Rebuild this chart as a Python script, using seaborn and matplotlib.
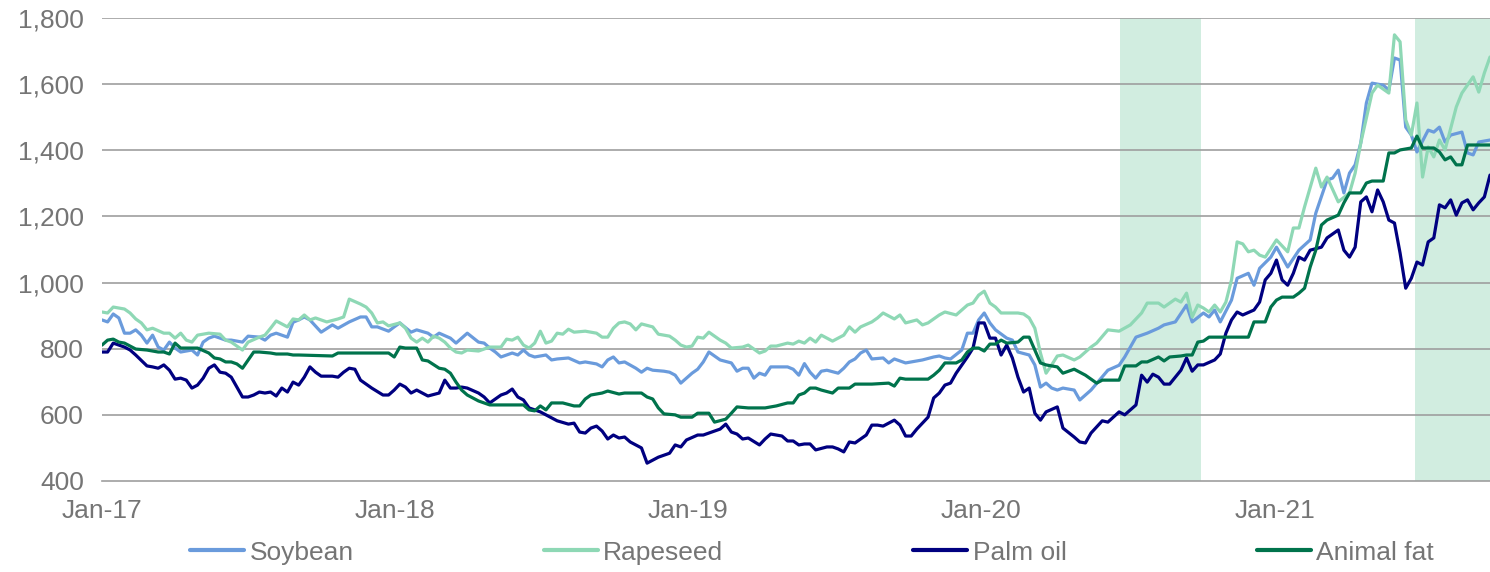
import numpy as np
import pandas as pd
import matplotlib
matplotlib.use("Agg")
import matplotlib.pyplot as plt
import matplotlib.dates as mdates
from matplotlib.ticker import FuncFormatter
import seaborn as sns

# ---------------- data (weekly index since 2017-01-01, USD/t) ----------------
START = "2017-01-01"

soy_week = [0,1,2,3,4,5,6,7,8,9,10,11,12,13,14,16,17,18,19,20,22,23,25,26,28,29,30,31,33,34,35,36,37,39,41,42,44,46,47,48,49,51,52,53,55,56,58,59,60,62,63,64,65,67,68,69,70,71,73,74,75,76,77,79,80,81,83,85,86,88,89,90,91,92,93,95,96,97,98,100,101,102,103,104,105,106,107,108,109,110,112,113,114,115,116,117,118,119,121,122,123,124,125,126,127,128,129,131,132,133,134,135,136,137,139,140,141,143,146,148,149,150,151,153,154,155,156,157,158,159,161,162,163,165,166,167,168,169,170,171,173,174,176,178,179,181,182,184,186,188,189,191,193,194,196,197,198,199,201,202,204,205,206,208,209,211,213,215,216,218,219,220,221,222,223,224,225,226,228,229,230,231,232,233,234,236,237,238,239,240,242,243,244,245,247]
soy_val = [887,881,905,893,847,847,857,841,817,841,805,796,820,802,790,796,781,820,832,838,826,826,820,838,835,826,841,847,835,880,887,896,887,850,872,862,881,896,896,866,866,853,866,878,850,857,847,835,847,832,817,832,847,820,817,802,790,775,787,781,796,781,775,781,766,769,772,757,760,754,745,766,775,757,760,741,729,741,735,732,729,720,696,711,726,738,760,790,778,766,757,732,741,741,711,726,720,745,745,745,738,720,755,729,711,732,735,726,741,760,769,787,796,769,772,757,769,757,766,775,778,772,769,796,847,847,887,908,878,857,832,826,790,781,751,684,696,681,675,681,675,645,675,715,735,750,775,835,847,862,872,881,932,881,908,896,917,881,947,1013,1028,992,1043,1077,1107,1047,1098,1129,1210,1310,1316,1340,1271,1331,1356,1422,1543,1603,1597,1582,1679,1673,1470,1446,1395,1461,1455,1470,1425,1446,1455,1392,1386,1425,1431]

rape_week = [0,1,2,4,5,6,7,8,9,11,12,13,14,15,16,17,19,21,22,23,25,26,28,29,30,31,33,34,35,36,37,38,40,42,43,44,46,47,48,49,50,51,53,54,55,56,57,58,59,60,61,62,63,64,65,67,69,71,72,73,74,75,76,77,78,79,80,81,82,83,84,86,88,89,90,91,92,93,94,95,96,98,99,101,102,103,104,105,106,107,108,110,111,112,114,115,117,118,119,120,122,123,124,125,126,127,128,130,131,132,133,134,135,137,138,139,141,142,143,145,146,147,149,150,152,153,154,155,156,157,158,159,160,163,164,165,166,167,168,169,170,171,173,174,176,177,179,181,183,185,186,188,189,191,192,193,194,195,196,197,198,199,200,201,202,203,204,205,206,207,209,211,212,213,214,216,217,218,220,222,223,224,226,227,229,230,231,232,233,234,235,236,237,238,239,241,242,244,245,246,247]
rape_val = [911,908,926,920,908,890,878,857,862,847,847,832,847,826,820,841,847,844,826,820,796,820,835,841,862,884,866,890,887,902,887,893,881,890,896,950,935,926,908,878,881,869,878,862,832,820,832,820,838,832,820,802,790,787,796,793,805,805,829,826,835,811,802,817,853,817,823,847,844,859,850,853,847,835,835,862,878,881,875,857,875,866,844,838,826,811,805,808,835,832,850,826,817,802,805,811,787,793,808,808,817,814,823,817,832,820,841,823,832,841,866,850,866,881,893,908,890,902,878,887,872,878,902,911,902,917,932,938,962,974,938,926,908,908,905,893,862,787,726,751,778,781,766,775,805,817,857,853,872,908,938,938,926,950,941,968,896,932,923,911,932,911,941,1008,1123,1117,1093,1098,1083,1077,1129,1093,1165,1165,1229,1346,1289,1319,1244,1271,1331,1422,1573,1597,1573,1749,1728,1492,1446,1543,1319,1410,1380,1431,1401,1531,1573,1622,1576,1634,1682]

palm_week = [0,1,2,3,4,5,6,8,9,10,11,12,13,14,15,16,17,18,19,20,21,22,23,24,25,26,27,28,29,30,31,32,33,34,35,36,37,38,39,41,42,43,44,45,46,47,48,50,51,52,53,54,55,56,57,58,60,61,62,63,64,65,67,68,69,71,72,73,74,75,76,77,78,80,81,83,84,85,86,87,88,89,90,91,92,93,94,96,97,99,100,101,102,103,104,106,107,108,110,111,112,113,114,115,117,118,119,121,122,123,124,125,126,127,129,130,131,132,133,134,135,136,137,138,139,141,142,143,144,145,146,147,148,149,150,151,152,154,155,156,157,158,159,160,161,162,163,164,165,166,167,168,170,171,173,174,175,176,178,179,181,182,184,185,186,187,188,189,190,192,193,194,195,196,198,199,200,201,202,203,205,206,207,208,209,210,211,212,213,214,215,217,218,220,221,222,223,224,225,226,227,228,229,230,231,232,233,234,235,236,237,238,239,240,241,242,243,244,245,246,247]
palm_val = [790,790,817,811,805,796,781,748,745,741,751,735,708,711,705,681,690,711,741,751,729,726,714,684,654,654,660,669,666,669,657,681,669,699,690,714,745,729,717,717,714,729,741,738,705,693,681,660,660,675,693,684,666,675,666,657,666,705,681,681,684,681,666,654,636,660,666,678,654,645,621,615,609,591,582,572,575,548,545,560,566,551,527,539,530,533,518,500,454,472,478,484,509,503,524,539,539,545,557,572,548,542,527,530,509,527,542,536,521,521,509,512,512,494,503,503,497,488,518,515,527,539,569,569,566,584,569,536,536,557,575,593,651,666,690,696,726,775,802,878,878,832,832,781,811,772,714,669,681,605,584,609,624,560,533,518,515,545,582,578,609,600,630,720,699,723,714,693,693,735,772,732,751,751,766,784,847,887,911,902,917,941,1008,1028,1068,1008,992,1028,1077,1068,1098,1107,1135,1159,1098,1077,1107,1244,1259,1214,1280,1244,1189,1180,1089,983,1013,1062,1053,1123,1135,1235,1226,1250,1204,1241,1250,1220,1241,1259,1325]

fat_week = [0,1,2,3,4,5,6,8,10,11,12,13,14,16,17,19,20,21,22,23,24,25,27,28,30,31,33,34,35,41,42,51,52,53,54,56,57,58,60,61,62,63,64,65,67,68,69,71,75,76,77,78,79,80,82,84,85,86,87,88,89,90,92,93,96,97,98,99,100,102,103,105,106,108,109,111,112,113,115,118,120,122,123,124,125,126,127,128,130,131,133,134,137,140,141,142,143,147,148,149,150,152,153,154,155,156,157,158,159,160,161,163,164,165,166,167,168,170,171,173,174,175,177,178,181,182,184,185,186,188,189,190,192,193,194,195,196,197,204,205,207,208,209,210,212,213,214,215,216,217,218,220,221,222,224,225,226,228,229,230,231,233,234,235,237,238,239,240,241,242,243,247]
fat_val = [811,826,829,820,817,808,799,796,790,790,784,817,802,802,802,787,772,769,760,760,754,741,790,790,787,784,784,781,781,778,787,787,775,805,802,802,766,763,741,738,726,699,675,660,642,636,630,630,630,615,612,627,615,636,636,627,627,648,660,663,666,672,663,666,666,654,648,621,603,600,593,593,605,605,578,587,605,624,621,621,627,636,636,660,666,681,681,675,666,681,681,693,693,696,687,711,708,708,720,735,757,757,766,790,802,802,793,814,814,826,817,820,835,835,796,757,751,745,726,738,729,720,696,705,705,748,748,760,760,775,763,775,778,781,781,820,823,835,835,881,881,926,947,956,956,968,983,1047,1098,1174,1189,1204,1241,1271,1271,1301,1307,1307,1392,1392,1401,1407,1443,1407,1407,1395,1371,1380,1356,1356,1416,1416]

series_names = ["Soybean", "Rapeseed", "Palm oil", "Animal fat"]
series_colors = ["#6A9BDC", "#8ED8B5", "#000080", "#00734C"]
shade_periods = [("2020-06-22", "2020-10-01"), ("2021-06-24", "2021-09-26")]
year_ticks = ["2017-01-01", "2018-01-01", "2019-01-01", "2020-01-01", "2021-01-01"]
y_ticks = [400, 600, 800, 1000, 1200, 1400, 1600, 1800]

# ---------------- build tidy frame ----------------
frames = []
for name, wk, val in zip(series_names,
                         [soy_week, rape_week, palm_week, fat_week],
                         [soy_val, rape_val, palm_val, fat_val]):
    d = pd.Timestamp(START) + pd.to_timedelta(np.array(wk) * 7, unit="D")
    frames.append(pd.DataFrame({"date": d, "price": val, "series": name}))
df = pd.concat(frames, ignore_index=True)

# ---------------- style ----------------
sns.set_style("white")
plt.rcParams["font.family"] = ["Liberation Sans", "DejaVu Sans"]
GRAY_TXT = "#757575"
GRID = "#9E9E9E"

fig = plt.figure(figsize=(14.9, 5.72), dpi=100)
ax = fig.add_axes([102 / 1490, 1 - 481 / 572, (1490 - 102) / 1490, (481 - 18) / 572])

for s, e in shade_periods:
    ax.axvspan(pd.Timestamp(s), pd.Timestamp(e), color="#D1EDE0", lw=0, zorder=0)

for y in y_ticks[1:]:
    ax.axhline(y, color=GRID, lw=1.2, zorder=1)

sns.lineplot(data=df, x="date", y="price", hue="series", hue_order=series_names,
             palette=dict(zip(series_names, series_colors)), linewidth=2.3,
             ax=ax, legend=False, zorder=3)

ax.set_xlim(pd.Timestamp(START), df["date"].max())
ax.set_ylim(400, 1800)
ax.set_yticks(y_ticks)
ax.yaxis.set_major_formatter(FuncFormatter(lambda v, p: f"{int(v):,}"))
ax.set_xticks([pd.Timestamp(t) for t in year_ticks])
ax.xaxis.set_major_formatter(mdates.DateFormatter("%b-%y"))

for sp in ["top", "right", "left"]:
    ax.spines[sp].set_visible(False)
ax.spines["bottom"].set_color(GRID)
ax.spines["bottom"].set_linewidth(1.2)
ax.spines["bottom"].set_zorder(2)

ax.tick_params(axis="y", length=0, pad=13, labelsize=19, labelcolor=GRAY_TXT)
ax.tick_params(axis="x", direction="out", length=6, width=1.2, color=GRID,
               pad=7, labelsize=19, labelcolor=GRAY_TXT)
ax.set_xlabel("")
ax.set_ylabel("")

handles = [plt.Line2D([], [], color=c, lw=3) for c in series_colors]
leg = fig.legend(handles, series_names, loc="center", bbox_to_anchor=(0.545, 0.034),
                 ncol=4, frameon=False, fontsize=19, handlelength=2.05,
                 handletextpad=0.2, columnspacing=7.2, borderaxespad=0)
for t in leg.get_texts():
    t.set_color(GRAY_TXT)

fig.savefig("out.png", dpi=100)
